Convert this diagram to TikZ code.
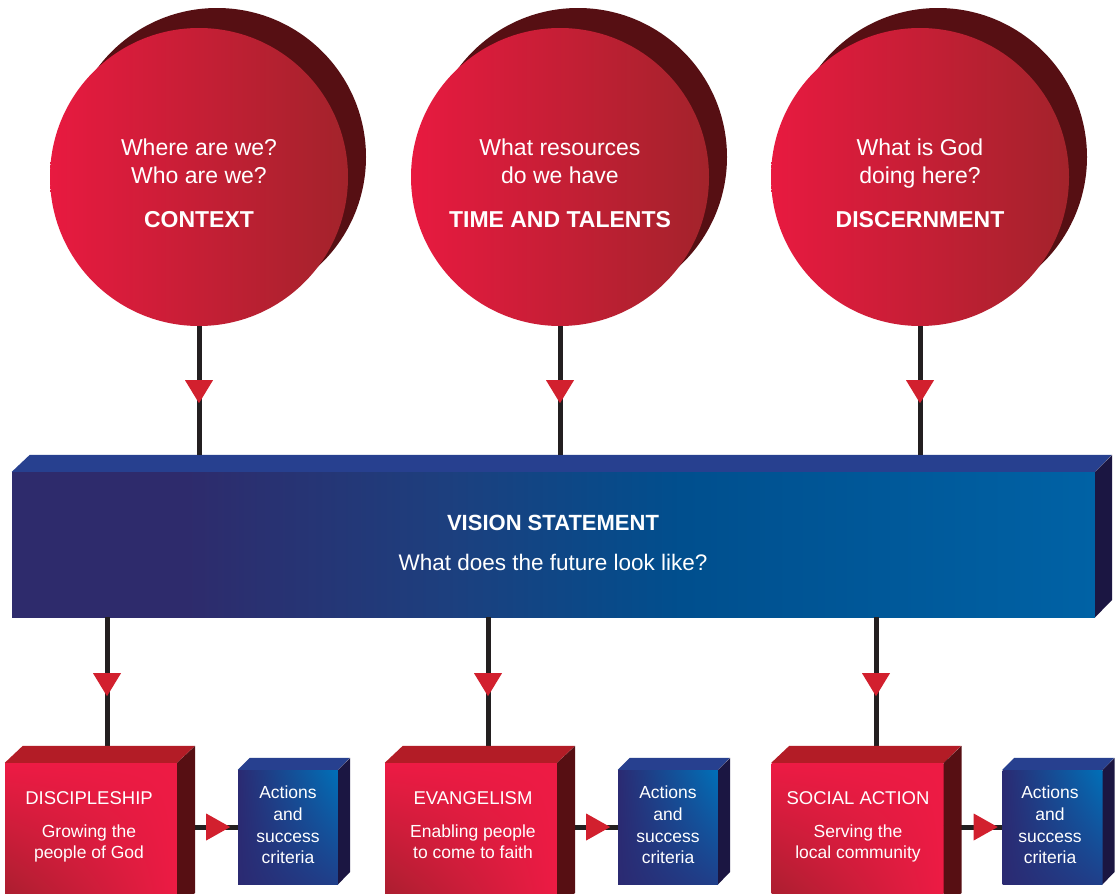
\documentclass[tikz,border=0pt]{standalone}
\usepackage{fontspec}
\setmainfont{Liberation Sans}
\usetikzlibrary{decorations.markings,shadings}
\definecolor{circL}{HTML}{E81A40}
\definecolor{circR}{HTML}{A3232B}
\definecolor{shadowred}{HTML}{560F13}
\definecolor{linegray}{HTML}{231F20}
\definecolor{arrred}{HTML}{D2202E}
\definecolor{barnavy}{HTML}{2E2B6C}
\definecolor{barmid}{HTML}{1D3F7E}
\definecolor{barmid2}{HTML}{004F8E}
\definecolor{barblue}{HTML}{0062A5}
\definecolor{barblue1}{HTML}{006AAF}
\definecolor{barblue2}{HTML}{0062A4}
\definecolor{bartopc}{HTML}{27408F}
\definecolor{barside}{HTML}{1B1642}
\definecolor{redfront}{HTML}{ED1B44}
\definecolor{reddark}{HTML}{A31F2D}
\definecolor{redtop}{HTML}{B31C26}
\definecolor{redside}{HTML}{570F13}
\definecolor{bnavy}{HTML}{2B2A72}
\definecolor{bblue}{HTML}{0070B8}
\definecolor{bmid}{HTML}{1F3F8A}
\pgfdeclarehorizontalshading{barshade}{100bp}{color(0bp)=(barnavy); color(33bp)=(barnavy); color(45bp)=(barmid); color(56bp)=(barmid2); color(75bp)=(barblue); color(90bp)=(barblue1); color(100bp)=(barblue2)}
\begin{document}
\begin{tikzpicture}[x=1pt,y=-1pt,
  shadowc/.style={circle, fill=shadowred, minimum size=298pt, inner sep=0pt},
  circ/.style={circle, left color=circL, right color=circR, minimum size=298pt, inner sep=0pt},
  conn/.style={draw=linegray, line width=5pt},
  midarrow/.style={postaction={decorate,decoration={markings,mark=at position #1 with {\fill[arrred] (0,0) -- (-23,-14) -- (-23,14) -- cycle;}}}},
  sidearrow/.style={postaction={decorate,decoration={markings,mark=at position #1 with {\fill[arrred] (0,0) -- (-24,-13.5) -- (-24,13.5) -- cycle;}}}},
  barfront/.style={rectangle, shade, shading=barshade, minimum width=1083pt, minimum height=145pt, inner sep=0pt},
  redbox/.style={rectangle, shade, upper left=redfront, upper right=redfront, lower right=redfront, lower left=reddark, minimum width=172pt, minimum height=147pt, inner sep=0pt},
  bluebox/.style={rectangle, shade, upper left=bnavy, upper right=bblue, lower right=bmid, lower left=bnavy, minimum width=100pt, minimum height=114pt, inner sep=0pt},
  qtext/.style={text=white, font=\fontsize{23}{28}\selectfont, anchor=base, inner sep=0pt},
  ttext/.style={text=white, font=\fontsize{23}{28}\selectfont\bfseries, anchor=base, inner sep=0pt},
  vtitle/.style={text=white, font=\fontsize{22}{26}\selectfont\bfseries, anchor=base, inner sep=0pt},
  vtext/.style={text=white, font=\fontsize{22.5}{26}\selectfont, anchor=base, inner sep=0pt},
  rtitle/.style={text=white, font=\fontsize{18.5}{22}\selectfont, anchor=base, inner sep=0pt},
  rtext/.style={text=white, font=\fontsize{17.5}{21}\selectfont, anchor=base, inner sep=0pt},
  btext/.style={text=white, font=\fontsize{17.5}{21}\selectfont, anchor=base, inner sep=0pt}
]
\useasboundingbox[fill=white] (0,0) rectangle (1120,894);

% shadows and circles
\node[shadowc] (s1) at (217,157) {};
\node[shadowc] (s2) at (578,157) {};
\node[shadowc] (s3) at (938,157) {};
\node[circ] (c1) at (199,177) {};
\node[circ] (c2) at (560,177) {};
\node[circ] (c3) at (920,177) {};

% coordinates
\coordinate (bartop) at (553,455);
\coordinate (t1) at (107,746);
\coordinate (t2) at (488,746);
\coordinate (t3) at (876,746);

% bar
\node[barfront] (bar) at (553.5,544.5) {};
\fill[bartopc] (bar.north west) -- ++(18,-17) -- ++(1082,0) -- (bar.north east) -- cycle;
\fill[barside] (bar.north east) -- ++(17,-17) -- ++(0,145) -- (bar.south east) -- cycle;

% upper connectors
\draw[conn, midarrow=77pt] (c1.south) -- (c1.south |- bartop);
\draw[conn, midarrow=77pt] (c2.south) -- (c2.south |- bartop);
\draw[conn, midarrow=77pt] (c3.south) -- (c3.south |- bartop);

% lower connectors
\draw[conn, midarrow=79pt] (t1 |- bar.south) -- (t1);
\draw[conn, midarrow=79pt] (t2 |- bar.south) -- (t2);
\draw[conn, midarrow=79pt] (t3 |- bar.south) -- (t3);

% blue boxes
\node[bluebox] (a1) at (288,827) {};
\node[bluebox] (a2) at (668,827) {};
\node[bluebox] (a3) at (1052.5,827) {};
\foreach \n in {a1,a2,a3}{
  \fill[bartopc] (\n.north west) -- ++(12,-12) -- ++(100,0) -- (\n.north east) -- cycle;
  \fill[barside] (\n.north east) -- ++(12,-12) -- ++(0,114) -- (\n.south east) -- cycle;
}

% red boxes
\node[redbox] (r1) at (91,836.5) {};
\node[redbox] (r2) at (471,836.5) {};
\node[redbox] (r3) at (857.5,836.5) {};

% side connectors
\draw[conn, sidearrow=53pt] (r1.east |- a1.west) -- (a1.west);
\draw[conn, sidearrow=53pt] (r2.east |- a2.west) -- (a2.west);
\draw[conn, sidearrow=54pt] (r3.east |- a3.west) -- (a3.west);

\foreach \n in {r1,r2,r3}{
  \fill[redtop] (\n.north west) -- ++(18,-17) -- ++(172,0) -- (\n.north east) -- cycle;
  \fill[redside] (\n.north east) -- ++(18,-17) -- ++(0,147) -- (\n.south east) -- cycle;
}

% circle texts
\node[qtext] (q1a) at (199,155) {Where are we?};
\node[qtext] (q1b) at (199,183) {Who are we?};
\node[ttext] (q1t) at (199,227) {CONTEXT};
\node[qtext] (q2a) at (560,155) {What resources};
\node[qtext] (q2b) at (560,183) {do we have};
\node[ttext] (q2t) at (560,227) {TIME AND TALENTS};
\node[qtext] (q3a) at (920,155) {What is God};
\node[qtext] (q3b) at (920,183) {doing here?};
\node[ttext] (q3t) at (920,227) {DISCERNMENT};

% bar texts
\node[vtitle] (vt) at (553,530) {VISION STATEMENT};
\node[vtext] (vq) at (553,570) {What does the future look like?};

% red box texts
\node[rtitle] (r1t) at (89,804) {DISCIPLESHIP};
\node[rtext] (r1a) at (89,837) {Growing the};
\node[rtext] (r1b) at (89,858) {people of God};
\node[rtitle] (r2t) at (473,804) {EVANGELISM};
\node[rtext] (r2a) at (473,837) {Enabling people};
\node[rtext] (r2b) at (473,858) {to come to faith};
\node[rtitle] (r3t) at (858,804) {SOCIAL ACTION};
\node[rtext] (r3a) at (858,837) {Serving the};
\node[rtext] (r3b) at (858,858) {local community};

% blue box texts
\foreach \n/\x in {1/288,2/668,3/1050}{
  \node[btext] (b\n a) at (\x,798) {Actions};
  \node[btext] (b\n b) at (\x,820) {and};
  \node[btext] (b\n c) at (\x,842) {success};
  \node[btext] (b\n d) at (\x,863) {criteria};
}
\end{tikzpicture}
\end{document}
